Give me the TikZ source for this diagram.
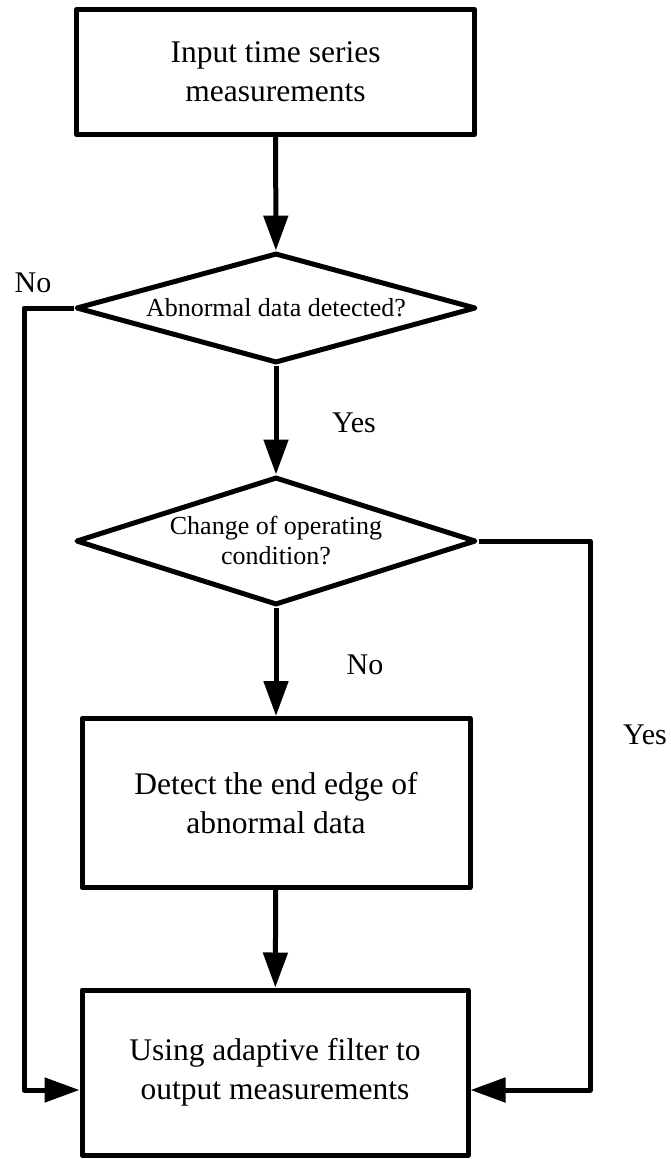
\documentclass[tikz,border=0pt]{standalone}
\usepackage{fontspec}
\setmainfont{Liberation Serif}
\usetikzlibrary{shapes.geometric,arrows.meta}

\begin{document}
\begin{tikzpicture}[x=1pt,y=-1pt,
        line width=5pt, line join=round,
        procbox/.style={draw, rectangle, align=center, inner sep=0pt,
            font=\fontsize{31.5}{39}\selectfont},
        decide/.style={draw, diamond, align=center, inner sep=0pt,
            font=\fontsize{26}{30}\selectfont},
        arr/.style={-{Triangle[length=35pt,width=24pt]}},
        lab/.style={font=\fontsize{30}{36}\selectfont}]
        \useasboundingbox (0,0) rectangle (670,1159);
        \node[procbox, minimum width=398pt, minimum height=125pt] (In) at (275.5,72) {Input time series\\measurements};
        \node[decide, aspect=3.6, minimum width=400pt, minimum height=110pt] (Q1) at (276,308) {Abnormal data detected?};
        \node[decide, aspect=3.1, minimum width=400pt, minimum height=128pt] (Q2) at (276,541) {Change of operating\\condition?};
        \node[procbox, minimum width=388pt, minimum height=169pt] (Det) at (276,803) {Detect the end edge of\\abnormal data};
        \node[procbox, minimum width=386pt, minimum height=165pt] (Out) at (275,1072.5) {Using adaptive filter to\\output measurements};
        \coordinate (NoL) at (24,1090);
        \coordinate (YesR) at (590,1090);
        \node[lab] (NoA) at (33,283) {No};
        \node[lab] (YesA) at (354,423) {Yes};
        \node[lab] (NoB) at (365,665) {No};
        \node[lab] (YesB) at (645,735) {Yes};
        \draw[arr] (In) -- (Q1);
        \draw[arr] (Q1) -- (Q2);
        \draw[arr] (Q2) -- (Det);
        \draw[arr] (Det) -- (Out);
        \draw[arr] (Q1.west) -| (NoL) -- (NoL -| Out.west);
        \draw[arr] (Q2.east) -| (YesR) -- (YesR -| Out.east);
    \end{tikzpicture}
\end{document}
